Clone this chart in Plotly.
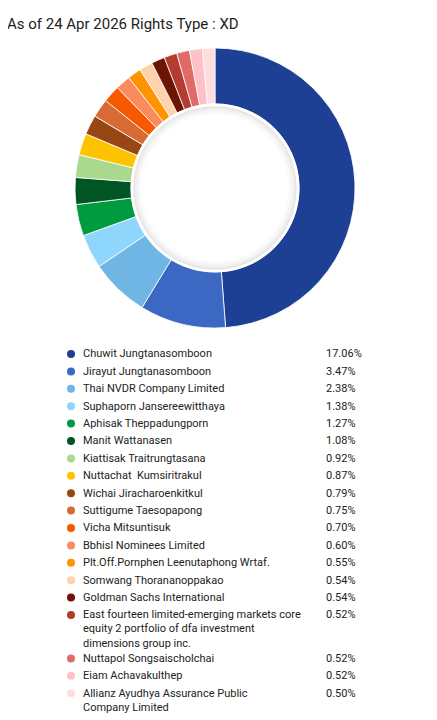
import plotly.graph_objects as go

W, H = 437, 720
OFF = 8  # browser body margin
FW, FH = W - OFF, H - OFF

title_text = "As of 24 Apr 2026 Rights Type : XD"

holders = [
    "Chuwit Jungtanasomboon",
    "Jirayut Jungtanasomboon",
    "Thai NVDR Company Limited",
    "Suphaporn Jansereewitthaya",
    "Aphisak Theppadungporn",
    "Manit Wattanasen",
    "Kiattisak Traitrungtasana",
    "Nuttachat  Kumsiritrakul",
    "Wichai Jiracharoenkitkul",
    "Suttigume Taesopapong",
    "Vicha Mitsuntisuk",
    "Bbhisl Nominees Limited",
    "Plt.Off.Pornphen Leenutaphong Wrtaf.",
    "Somwang Thorananoppakao",
    "Goldman Sachs International",
    "East fourteen limited-emerging markets core<br>equity 2 portfolio of dfa investment<br>dimensions group inc.",
    "Nuttapol Songsaischolchai",
    "Eiam Achavakulthep",
    "Allianz Ayudhya Assurance Public<br>Company Limited",
]

percent = [17.06, 3.47, 2.38, 1.38, 1.27, 1.08, 0.92, 0.87, 0.79, 0.75,
           0.70, 0.60, 0.55, 0.54, 0.54, 0.52, 0.52, 0.52, 0.50]

colors = [
    "#1d3f94", "#3a68c2", "#70b6e5", "#8fd6fd", "#009b3e", "#005525",
    "#a9d98f", "#fdc300", "#974614", "#d76b33", "#f65900", "#fb8a5e",
    "#fe9500", "#fed2aa", "#6d1504", "#b43b2f", "#e06b67", "#ffc1c7",
    "#ffdcde",
]

def px(x):
    return (x - OFF) / FW

def py(y):
    return 1 - (y - OFF) / FH

# donut geometry in window pixels
cx, cy, R = 215, 188, 140

fig = go.Figure()
fig.add_trace(go.Pie(
    labels=[h.replace("<br>", " ") for h in holders],
    values=percent,
    marker=dict(colors=colors, line=dict(color="white", width=0.8)),
    hole=0.6,
    sort=False,
    direction="clockwise",
    rotation=0,
    textinfo="none",
    hoverinfo="label+value",
    showlegend=False,
    domain=dict(x=[px(cx - R), px(cx + R)], y=[py(cy + R), py(cy - R)]),
))

shapes = []
def circ(r, color, width):
    shapes.append(dict(
        type="circle", xref="paper", yref="paper",
        x0=px(cx - r), x1=px(cx + r), y0=py(cy + r), y1=py(cy - r),
        line=dict(color=color, width=width), fillcolor="rgba(0,0,0,0)",
    ))

circ(83, "white", 3)
for k, a in enumerate([0.10, 0.07, 0.05, 0.035, 0.02, 0.01]):
    circ(81 - 1.5 * k, f"rgba(0,0,0,{a})", 1.5)

FONT = "Roboto"
annotations = [dict(
    text=title_text, xref="paper", yref="paper", x=px(5), y=py(24),
    xanchor="left", yanchor="middle", showarrow=False,
    font=dict(family=FONT, size=15, color="#222222"),
)]

fs = 11
ypix = 354.0
for name, v, c in zip(holders, percent, colors):
    nlines = name.count("<br>") + 1
    yc = ypix
    shapes.append(dict(
        type="circle", xref="paper", yref="paper",
        x0=px(71 - 4), x1=px(71 + 4), y0=py(yc + 4), y1=py(yc - 4),
        line=dict(width=0), fillcolor=c,
    ))
    top = yc - 0.65 * fs - 1.5
    annotations.append(dict(
        text=name, xref="paper", yref="paper", x=px(81), y=py(top),
        xanchor="left", yanchor="top", align="left", showarrow=False,
        font=dict(family=FONT, size=fs, color="#222222"),
    ))
    annotations.append(dict(
        text=f"{v:.2f}%", xref="paper", yref="paper", x=px(324), y=py(top),
        xanchor="left", yanchor="top", align="left", showarrow=False,
        font=dict(family=FONT, size=fs, color="#222222"),
    ))
    ypix += 17.4 + 13 * (nlines - 1)

fig.update_layout(
    width=FW, height=FH,
    margin=dict(l=0, r=0, t=0, b=0),
    paper_bgcolor="white", plot_bgcolor="white",
    shapes=shapes, annotations=annotations,
)

fig.write_html("out.html")
